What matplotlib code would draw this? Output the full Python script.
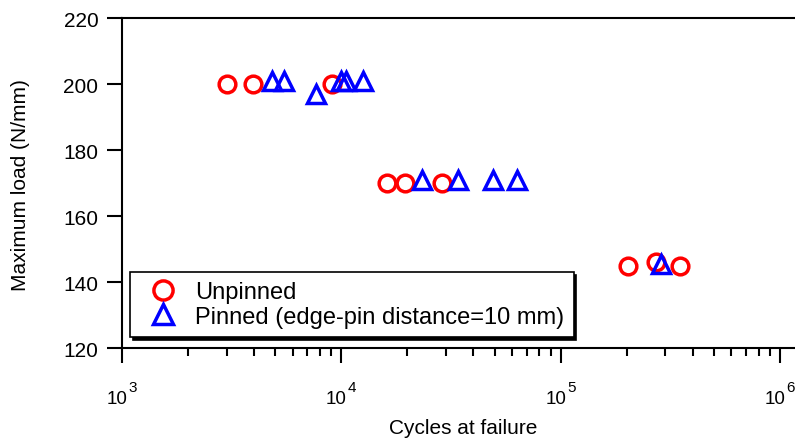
import numpy as np
import matplotlib
matplotlib.use("Agg")
import matplotlib.pyplot as plt
from matplotlib.ticker import LogLocator, NullFormatter
from matplotlib.transforms import offset_copy

plt.rcParams['font.family'] = ['Liberation Sans', 'DejaVu Sans']

# unpinned specimens
unpinned_cycles = [3.0e3, 3.95e3, 9.05e3, 1.61e4, 1.95e4, 2.87e4, 2.02e5, 2.73e5, 3.49e5]
unpinned_load = [200, 200, 200, 170, 170, 170, 145, 146, 145]

# pinned specimens (edge-pin distance 10 mm)
pinned_cycles = [4.83e3, 5.5e3, 7.7e3, 1.0e4, 1.05e4, 1.25e4, 2.33e4, 3.4e4, 4.9e4, 6.3e4, 2.88e5]
pinned_load = [201, 201, 197, 201, 201, 201, 171, 171, 171, 171, 145.5]

decades = [3, 4, 5, 6]
yticks = [120, 140, 160, 180, 200, 220]

fig = plt.figure(figsize=(7.95, 4.39), dpi=100)
ax = fig.add_axes([0.1535, 0.205, 0.8465, 0.7517])

ax.plot(unpinned_cycles, unpinned_load, linestyle='none', marker='o', ms=12,
        mfc='none', mec='red', mew=2.5, label='Unpinned')
ax.plot(pinned_cycles, pinned_load, linestyle='none', marker='^', ms=12.5,
        mfc='none', mec='blue', mew=2.5, label='Pinned (edge-pin distance=10 mm)')

ax.set_xscale('log')
ax.set_xlim(1e3, 1.17e6)
ax.set_ylim(120, 220)
ax.set_yticks(yticks)
ax.xaxis.set_major_locator(LogLocator(base=10))
ax.xaxis.set_minor_locator(LogLocator(base=10, subs=np.arange(2, 10)))
ax.xaxis.set_major_formatter(NullFormatter())
ax.xaxis.set_minor_formatter(NullFormatter())

ax.spines['right'].set_visible(False)
for s in ['left', 'top', 'bottom']:
    ax.spines[s].set_linewidth(1.5)
ax.tick_params(axis='both', which='major', direction='out', length=11, width=1.5,
               labelsize=15, pad=6)
ax.tick_params(axis='x', which='minor', direction='out', length=5.5, width=1.5)
ax.tick_params(axis='y', which='minor', left=False)

# decade labels as 10 + raised exponent
tr = ax.get_xaxis_transform()
for d in decades:
    base_tr = offset_copy(tr, fig=fig, x=4.0, y=-39.6, units='points')
    sup_tr = offset_copy(tr, fig=fig, x=4.6, y=-31.0, units='points')
    ax.text(10.0 ** d, 0, '10', transform=base_tr, ha='right', va='baseline',
            fontsize=13.5, clip_on=False)
    ax.text(10.0 ** d, 0, str(d), transform=sup_tr, ha='left', va='baseline',
            fontsize=11, clip_on=False)

ax.set_xlabel('Cycles at failure', fontsize=15)
ax.set_ylabel('Maximum load (N/mm)', fontsize=15)
ax.xaxis.set_label_coords(0.507, -0.212)
ax.yaxis.set_label_coords(-0.137, 0.497)

leg = ax.legend(loc='lower left', bbox_to_anchor=(0.012, 0.033), borderaxespad=0,
                fontsize=17, fancybox=False, edgecolor='black', framealpha=1,
                shadow={'color': 'black', 'alpha': 1}, handletextpad=0.35,
                handlelength=2.0, borderpad=0.4, labelspacing=0.1, markerscale=1.15)
leg.get_frame().set_linewidth(1.2)

fig.savefig('out.png', dpi=100)
